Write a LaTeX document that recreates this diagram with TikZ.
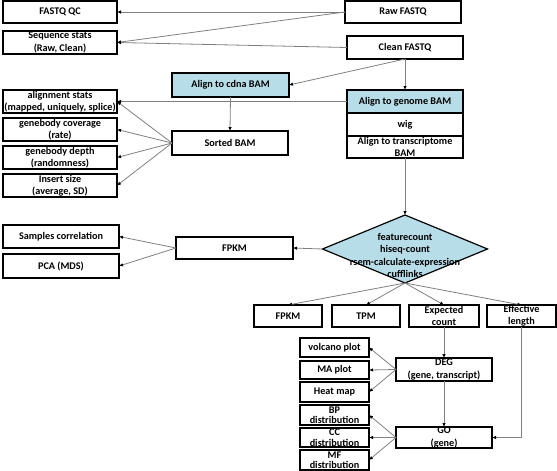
\documentclass[tikz,border=0pt]{standalone}
\usepackage{fontspec}
\setmainfont{Carlito}
\usetikzlibrary{
  	positioning,
  	arrows.meta,
  	shapes.geometric
  }
\definecolor{stepblue}{HTML}{B7DEE8}
\tikzset{
  	box/.style={draw, line width=1.2pt, inner sep=0pt, outer sep=0pt, align=center,
  		font=\fontsize{10.2}{12.3}\selectfont\bfseries},
  	tightbox/.style={box, font=\fontsize{10.2}{10.5}\selectfont\bfseries},
  	hlbox/.style={box, fill=stepblue},
  	decision/.style={diamond, draw, line width=1.2pt, fill=stepblue, inner sep=0pt, outer sep=0pt,
  		minimum width=165pt, minimum height=68pt},
  	link/.style={draw=gray, line width=0.8pt, -{Latex[length=4pt, width=3.5pt, color=black]}}
  }

\begin{document}
\begin{tikzpicture}[x=1pt, y=-1pt]
	\useasboundingbox (0,0) rectangle (557,471);
%
	\node[box, minimum width=116pt, minimum height=22pt] (Raw) at (403,12) {Raw FASTQ};
	\node[box, minimum width=116pt, minimum height=23pt] (Clean) at (405,47.5) {Clean FASTQ};
	\node[box, minimum width=114pt, minimum height=22pt] (FastQC) at (60,12) {FASTQ QC};
	\node[box, minimum width=114pt, minimum height=23pt] (SeqStats) at (60,42.5) {Sequence stats\\(Raw, Clean)};
%
	\node[hlbox, minimum width=116pt, minimum height=23pt] (Genome) at (405,101.5) {Align to genome BAM};
	\node[box, below=0pt of Genome, minimum width=116pt, minimum height=23pt] (Wig) {wig};
	\node[box, below=0pt of Wig, minimum width=116pt, minimum height=22pt] (Trans) {Align to transcriptome\\BAM};
	\node[hlbox, minimum width=117pt, minimum height=24pt] (Cdna) at (230.5,85) {Align to cdna BAM};
	\node[box, minimum width=116pt, minimum height=24pt] (Sorted) at (230,143) {Sorted BAM};
%
	\node[box, minimum width=114pt, minimum height=23pt] (AlnStats) at (60,101.5) {alignment stats\\(mapped, uniquely, splice)};
	\node[box, below=5pt of AlnStats, minimum width=114pt, minimum height=23pt] (GbCov) {genebody coverage\\(rate)};
	\node[box, below=5pt of GbCov, minimum width=114pt, minimum height=23pt] (GbDepth) {genebody depth\\(randomness)};
	\node[box, below=5pt of GbDepth, minimum width=114pt, minimum height=23pt] (Insert) {Insert size\\(average, SD)};
%
	\node[decision] (Quant) at (405,249) {};
	\node[font=\fontsize{10.2}{12.5}\selectfont\bfseries, align=center, inner sep=0pt] (QuantLab) at (405,255.5)
		{featurecount\\hiseq-count\\rsem-calculate-expression\\cufflinks};
	\node[box, minimum width=117pt, minimum height=22pt] (Fpkm) at (234.5,248) {FPKM};
	\node[box, minimum width=116pt, minimum height=23pt] (Samples) at (61,236.5) {Samples correlation};
	\node[box, below=6pt of Samples, minimum width=116pt, minimum height=24pt] (Pca) {PCA (MDS)};
%
	\node[box, minimum width=68pt, minimum height=22pt] (FpkmB) at (288,316) {FPKM};
	\node[box, right=10pt of FpkmB, minimum width=68pt, minimum height=22pt] (Tpm) {TPM};
	\node[box, right=9pt of Tpm, minimum width=70pt, minimum height=22pt] (Expected) {Expected\\count};
	\node[box, right=8pt of Expected, minimum width=69pt, minimum height=22pt] (EffLen) {Effective\\length};
%
	\node[box, minimum width=96pt, minimum height=23pt] (Deg) at (444,369.5) {DEG\\(gene, transcript)};
	\node[box, minimum width=96pt, minimum height=21pt] (Go) at (444,437.5) {GO\\(gene)};
	\node[box, minimum width=69pt, minimum height=19pt] (Volcano) at (334.5,347.5) {volcano plot};
	\node[box, below=4pt of Volcano, minimum width=69pt, minimum height=18pt] (Ma) {MA plot};
	\node[box, below=3pt of Ma, minimum width=69pt, minimum height=20pt] (Heat) {Heat map};
	\node[tightbox, below=3pt of Heat, minimum width=69pt, minimum height=20pt] (Bp) {BP\\distribution};
	\node[tightbox, below=3pt of Bp, minimum width=69pt, minimum height=19pt] (Cc) {CC\\distribution};
	\node[tightbox, below=3pt of Cc, minimum width=69pt, minimum height=20pt] (Mf) {MF\\distribution};
%
	\draw[link] (Raw.west) -- (FastQC.east);
	\draw[link] (Raw.west) -- (SeqStats.east);
	\draw[link] (Clean.west) -- (SeqStats.east);
	\draw[link] (Clean.south) -- (Genome.north);
	\draw[link] (Clean.south) -- (Cdna.east);
	\draw[link] (Genome.west) -- (AlnStats.east);
	\draw[link] (Cdna.south) -- (Sorted.north);
	\foreach \t in {AlnStats, GbCov, GbDepth, Insert}
		\draw[link] (Sorted.west) -- (\t.east);
	\draw[link] (Trans.south) -- (Quant.north);
	\draw[link] (Quant.west) -- (Fpkm.east);
	\foreach \t in {Samples, Pca}
		\draw[link] (Fpkm.west) -- (\t.east);
	\foreach \t in {FpkmB, Tpm, Expected, EffLen}
		\draw[link] (Quant.south) -- (\t.north);
	\draw[link] (Expected.south) -- (Deg.north);
	\draw[link] (Deg.south) -- (Go.north);
	\draw[link] (EffLen.south) |- (Go.east);
	\foreach \t in {Volcano, Ma, Heat}
		\draw[link] (Deg.west) -- (\t.east);
	\foreach \t in {Bp, Cc, Mf}
		\draw[link] (Go.west) -- (\t.east);
\end{tikzpicture}
\end{document}
